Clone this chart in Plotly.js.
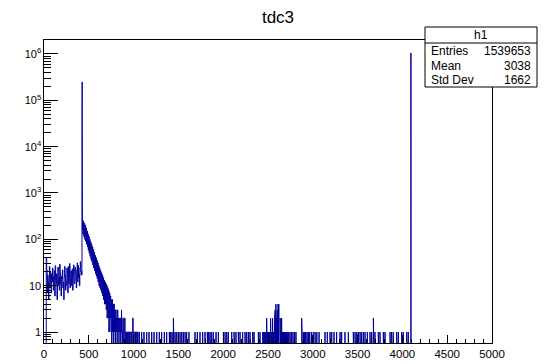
<!DOCTYPE html>
<html><head><meta charset="utf-8">
<script src="https://cdn.plot.ly/plotly-3.0.1.min.js"></script>
<style>html,body{margin:0;padding:0;background:#fff}#chart{width:556px;height:364px}</style>
</head><body><div id="chart"></div>
<script>
// ---- data ----
// low-TDC noise band: bins of width 5 starting at 0
const noiseStart = 0, noiseStep = 5;
const noiseCounts = [
  0,0,0,0,0,40,22,7,17,12,
  5,15,26,9,20,14,7,18,12,24,
  16,8,13,21,6,27,14,11,18,5,
  12,25,10,15,8,29,19,11,6,16,
  14,22,9,12,5,15,26,17,8,10,
  13,24,18,7,26,11,15,30,9,14,
  21,10,16,23,8,17,28,12,11,25,
  19,13,9,22,31,12,27,15,18,10,
  24,33,20,17
];
// main peak: bins of width 1 starting at 420
const peakStart = 420, peakStep = 1;
const peakCounts = [21,17,26,31,24000,250000,230,170,210,160];
// falling tail: bins of width 5 starting at 430
const tailStart = 430, tailStep = 5;
const tailCounts = [
  260,130,240,115,220,100,200,90,175,78,
  150,68,130,58,115,50,100,43,88,37,
  78,33,68,28,60,24,52,21,45,18,
  40,16,35,14,31,12,27,10,24,9,
  21,8,19,7,17,6,15,5,13,4,
  12,4,11,3,10,2,9,2,8,1,
  7,1,6,2,5,0,5,1,4,0,
  4,1,3,0,3,1,2,0,3,1,
  2,0,2,1,2,0,1,3,1,0,
  2,1,0,1,2,0,1,1,0,1,
  0,1,1,0,1,0,1,1,0,1,
  0,1,2,1,0,1,1,0,1,0,
  1,1,0,1
];
// isolated single bins (width 1) further out
const sparseX = [1064,1090,1116,1146,1172,1202,1228,1258,1287,1313,1343,1369,1399,1414,1429,1444,1462,1481,1499,1518,1537,1555,1574,1592,1618,
  1685,1711,1741,1771,1797,1823,1838,1853,1871,1890,1920,1946,2002,2020,2039,2057,2095,2121,2143,2169,2188,2217,2243,2262,2281,2299,2329,2344,2392,2411,
  2441,2452,2463,2474,2485,2496,2507,2518,2529,2540,2551,2562,2573,2580,2588,2596,2604,2612,2620,2628,2636,2644,2652,2662,2672,2683,2694,2705,2716,2730,2745,2760,2778,2795,2812,
  2876,2894,2905,2920,2935,2950,2965,2985,3005,3025,3045,3070,3136,3162,3192,3211,3237,3266,3304,3322,3359,3397,3452,3471,3490,3508,3527,3545,3564,3583,3609,3638,3657,3676,3694,3731,3750,3787,3806,3862,3880,3899,3936,3955,3992,4010,4048,4066,4095];
const sparseY = [1,1,1,1,1,1,1,1,1,1,1,1,1,1,1,2,1,1,1,1,1,1,1,1,1,
  1,1,1,1,1,1,1,1,1,1,1,1,1,1,1,1,1,1,1,1,1,1,1,1,1,1,1,1,1,1,
  1,1,1,1,2,1,1,1,2,1,2,1,2,3,4,2,3,4,4,3,2,1,2,1,1,1,1,1,1,1,1,1,1,1,1,
  2,1,1,1,1,1,1,1,1,1,1,1,1,1,1,1,1,1,1,1,1,1,1,1,1,1,1,1,1,1,1,1,1,2,1,1,1,1,1,1,1,1,1,1,1,1,1,1,1050000];
const xTicks = [0,500,1000,1500,2000,2500,3000,3500,4000,4500,5000];
const statLabels = ['Entries','Mean','Std Dev'];
const statValues = ['1539653','3038','1662'];

// ---- build histogram outline ----
const FLOOR = 0.05;
const bins = [];
noiseCounts.forEach((c,i)=>bins.push([noiseStart+i*noiseStep, noiseStep, c]));
peakCounts.forEach((c,i)=>bins.push([peakStart+i*peakStep, peakStep, c]));
tailCounts.forEach((c,i)=>bins.push([tailStart+i*tailStep, tailStep, c]));
sparseX.forEach((x,i)=>bins.push([x, 1, sparseY[i]]));
const hx=[], hy=[];
let lastEnd = null;
bins.forEach(([x0,w,c])=>{
  const y = c>0 ? c : FLOOR;
  if (lastEnd!==null && lastEnd!==x0){ hx.push(lastEnd); hy.push(FLOOR); hx.push(x0); hy.push(FLOOR); }
  hx.push(x0); hy.push(y); hx.push(x0+w); hy.push(y);
  lastEnd = x0+w;
});
hx.push(lastEnd); hy.push(FLOOR);

// ---- layout geometry (pixels) ----
const W=556,H=364, L=44, R=492, T=40, B=343;
const px = v => (v-L)/(R-L);
const py = v => (B-v)/(B-T);
const FONT = 'Liberation Sans, Arial, sans-serif';

const annotations = [{text:'h1', x:px(481), y:py(35), xref:'paper', yref:'paper', xanchor:'center', yanchor:'middle', showarrow:false, font:{family:FONT,size:12,color:'#000'}}];
const rowsY=[51,66,80];
statLabels.forEach((s,i)=>{
  annotations.push({text:s, x:px(429), y:py(rowsY[i]), xref:'paper', yref:'paper', xanchor:'left', yanchor:'middle', showarrow:false, font:{family:FONT,size:12,color:'#000'}});
  annotations.push({text:statValues[i], x:px(533), y:py(rowsY[i]), xref:'paper', yref:'paper', xanchor:'right', yanchor:'middle', showarrow:false, font:{family:FONT,size:12,color:'#000'}});
});

const layout = {
  width:W, height:H,
  margin:{l:L, r:W-R, t:T, b:H-B, pad:0},
  paper_bgcolor:'#fff', plot_bgcolor:'#fff',
  showlegend:false,
  font:{family:FONT, color:'#000'},
  title:{text:'tdc3', x:0.5, xref:'container', xanchor:'center', y:1-17/H, yref:'container', yanchor:'middle', font:{family:FONT,size:17,color:'#000'}},
  xaxis:{range:[0,5000], tickvals:xTicks, ticktext:xTicks.map(String), ticks:'inside', ticklen:8, tickwidth:1, tickcolor:'#000',
    minor:{ticks:'inside', ticklen:4, dtick:100, tickcolor:'#000', tickwidth:1, showgrid:false},
    showline:true, mirror:true, linecolor:'#000', linewidth:1, showgrid:false, zeroline:false,
    tickfont:{family:FONT,size:11.5,color:'#000'}},
  yaxis:{type:'log', range:[Math.log10(0.58), Math.log10(2.0e6)], dtick:1, exponentformat:'power',
    ticks:'inside', ticklen:14, tickwidth:1, tickcolor:'#000',
    minor:{ticks:'inside', ticklen:7, dtick:'D1', tickcolor:'#000', tickwidth:1, showgrid:false},
    showline:true, mirror:true, linecolor:'#000', linewidth:1, showgrid:false, zeroline:false,
    tickfont:{family:FONT,size:8.8,color:'#000'}},
  shapes:[
    {type:'rect', xref:'paper', yref:'paper', x0:px(425), x1:px(537), y0:py(87), y1:py(27), line:{color:'#000',width:1}, fillcolor:'#fff', layer:'above'},
    {type:'line', xref:'paper', yref:'paper', x0:px(425), x1:px(537), y0:py(43), y1:py(43), line:{color:'#000',width:1}, layer:'above'}
  ],
  annotations
};
Plotly.newPlot('chart', [{type:'scatter', mode:'lines', x:hx, y:hy, line:{color:'#000099', width:1, shape:'linear'}, hoverinfo:'skip'}], layout, {staticPlot:true, displayModeBar:false});
</script></body></html>
